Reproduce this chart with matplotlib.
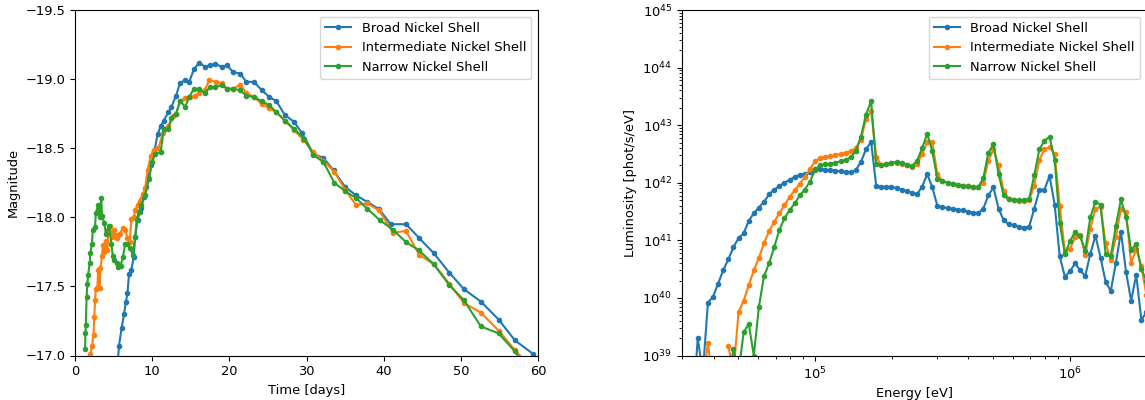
import numpy as np
import matplotlib
matplotlib.use("Agg")
import matplotlib.pyplot as plt
from matplotlib.ticker import NullFormatter

plt.rcParams['font.size'] = 9.4

labels = ["Broad Nickel Shell", "Intermediate Nickel Shell", "Narrow Nickel Shell"]

# ---- light curves (time [days], magnitude) ----
t_broad = [5.4, 5.7, 6.05, 6.35, 6.6, 6.8, 7.0, 7.3, 7.6, 7.8, 8.1, 8.4, 8.6, 8.9, 9.2, 9.5, 9.9,
           10.3, 10.7, 11.1, 11.5, 12.1, 12.5, 13.1, 13.6, 14.2, 14.8, 15.4, 16.1, 16.8, 17.5, 18.2,
           19.0, 19.7, 20.5, 21.4, 22.2, 23.2, 24.2, 25.2, 26.1, 27.2, 28.4, 29.4, 30.9, 32.2, 33.5,
           35.0, 36.4, 37.9, 39.4, 40.9, 42.9, 44.6, 46.5, 48.5, 50.4, 52.6, 54.9, 57.0, 59.4]
m_broad = [-16.85, -17.07, -17.20, -17.30, -17.39, -17.45, -17.59, -17.62, -17.71, -17.86, -17.98,
           -18.04, -18.07, -18.15, -18.22, -18.29, -18.38, -18.48, -18.60, -18.66, -18.70, -18.76,
           -18.80, -18.88, -18.97, -18.99, -18.98, -19.07, -19.12, -19.09, -19.10, -19.11, -19.09,
           -19.10, -19.05, -19.04, -18.98, -18.98, -18.92, -18.87, -18.84, -18.74, -18.69, -18.61,
           -18.46, -18.43, -18.34, -18.22, -18.16, -18.11, -18.06, -17.95, -17.95, -17.85, -17.74,
           -17.60, -17.48, -17.39, -17.26, -17.11, -17.01]

t_inter = [1.85, 2.0, 2.2, 2.4, 2.5, 2.6, 2.7, 2.9, 3.0, 3.2, 3.3, 3.5, 3.6, 3.8, 4.0, 4.2, 4.3, 4.5,
           4.8, 5.0, 5.2, 5.4, 5.6, 5.8, 6.2, 6.5, 6.8, 7.1, 7.3, 7.6, 7.8, 8.1, 8.4, 8.8, 9.1, 9.4,
           9.8, 10.2, 10.8, 11.4, 12.1, 12.7, 13.1, 13.6, 14.3, 14.9, 15.5, 16.1, 16.8, 17.4, 18.3,
           19.0, 19.7, 20.5, 21.4, 22.2, 23.2, 24.2, 25.2, 26.1, 27.2, 28.4, 29.6, 30.9, 32.2, 33.6,
           35.0, 36.4, 37.9, 39.4, 41.2, 42.9, 44.6, 46.5, 48.5, 50.4, 52.6, 54.9, 57.0, 58.5]
m_inter = [-16.85, -17.01, -17.07, -17.15, -17.28, -17.40, -17.48, -17.49, -17.62, -17.49, -17.63,
           -17.72, -17.80, -17.75, -17.83, -17.76, -17.91, -17.94, -17.86, -17.91, -17.87, -17.85,
           -17.87, -17.88, -17.92, -17.91, -17.85, -17.82, -17.99, -18.00, -18.05, -18.09, -18.12,
           -18.17, -18.21, -18.34, -18.44, -18.49, -18.50, -18.61, -18.66, -18.73, -18.75, -18.84,
           -18.86, -18.87, -18.88, -18.90, -18.92, -18.99, -18.98, -18.97, -18.93, -18.93, -18.96,
           -18.90, -18.87, -18.82, -18.79, -18.76, -18.70, -18.63, -18.56, -18.47, -18.41, -18.33,
           -18.20, -18.09, -18.10, -18.05, -17.89, -17.90, -17.73, -17.66, -17.52, -17.38, -17.31,
           -17.18, -17.04, -16.95]

t_narrow = [1.3, 1.35, 1.4, 1.5, 1.6, 1.7, 1.9, 2.0, 2.2, 2.3, 2.6, 2.7, 3.0, 3.2, 3.4, 3.5, 3.8, 4.0,
            4.4, 4.7, 4.9, 5.1, 5.4, 5.6, 5.9, 6.2, 6.5, 6.8, 7.1, 7.5, 7.8, 8.0, 8.3, 8.6, 9.1, 9.6,
            10.0, 10.4, 11.1, 11.5, 12.1, 12.5, 13.1, 13.6, 14.3, 14.8, 15.4, 16.1, 16.8, 17.5, 18.2,
            19.0, 19.7, 20.5, 21.4, 22.2, 23.2, 24.2, 25.2, 26.1, 27.2, 28.4, 29.7, 30.9, 32.2, 33.6,
            35.0, 36.4, 37.9, 39.5, 41.2, 42.9, 44.6, 46.5, 48.5, 50.4, 52.6, 54.9, 57.0, 58.0]
m_narrow = [-17.05, -17.16, -17.22, -17.42, -17.52, -17.58, -17.67, -17.74, -17.81, -17.91, -17.93,
            -18.03, -18.09, -18.00, -18.14, -18.01, -17.96, -17.88, -17.94, -17.81, -17.72, -17.69,
            -17.67, -17.64, -17.65, -17.71, -17.81, -17.81, -17.78, -17.73, -17.86, -17.98, -18.04,
            -18.09, -18.16, -18.28, -18.40, -18.46, -18.47, -18.64, -18.64, -18.72, -18.75, -18.84,
            -18.80, -18.87, -18.93, -18.93, -18.90, -18.94, -18.94, -18.96, -18.93, -18.93, -18.92,
            -18.88, -18.87, -18.84, -18.81, -18.76, -18.70, -18.64, -18.57, -18.45, -18.40, -18.25,
            -18.19, -18.14, -18.06, -17.98, -17.91, -17.82, -17.76, -17.66, -17.51, -17.40, -17.21,
            -17.16, -17.03, -16.95]

# ---- spectra: log10(energy [eV]) and log10(luminosity [phot/s/eV]) ----
log_energy = [4.48, 4.50, 4.52, 4.54, 4.56, 4.58, 4.60, 4.62, 4.64, 4.66, 4.68, 4.70, 4.72, 4.74,
              4.76, 4.78, 4.80, 4.82, 4.84, 4.86, 4.88, 4.90, 4.92, 4.94, 4.96, 4.98, 5.00, 5.02,
              5.04, 5.06, 5.08, 5.10, 5.12, 5.14, 5.16, 5.18, 5.20, 5.22, 5.24, 5.26, 5.28, 5.30,
              5.32, 5.34, 5.36, 5.38, 5.40, 5.42, 5.44, 5.46, 5.48, 5.50, 5.52, 5.54, 5.56, 5.58,
              5.60, 5.62, 5.64, 5.66, 5.68, 5.70, 5.72, 5.74, 5.76, 5.78, 5.80, 5.82, 5.84, 5.86,
              5.88, 5.90, 5.92, 5.94, 5.96, 5.98, 6.00, 6.02, 6.04, 6.06, 6.08, 6.10, 6.12, 6.14,
              6.16, 6.18, 6.20, 6.22, 6.24, 6.26, 6.28, 6.30]
nan = float("nan")
logL_broad = [nan, nan, 38.0, 39.30, 38.7, 39.92, 40.02, 40.25, 40.48, 40.67, 40.88, 41.04, 41.12,
              41.34, 41.47, 41.57, 41.67, 41.80, 41.88, 41.94, 42.00, 42.05, 42.10, 42.14, 42.16,
              42.18, 42.24, 42.24, 42.23, 42.22, 42.21, 42.20, 42.19, 42.18, 42.22, 42.36, 42.58,
              42.71, 41.95, 41.93, 41.93, 41.93, 41.91, 41.88, 41.85, 41.83, 41.80, 41.93, 42.15,
              41.92, 41.60, 41.58, 41.56, 41.55, 41.53, 41.52, 41.50, 41.48, 41.47, 41.55, 41.78,
              41.92, 41.55, 41.35, 41.28, 41.26, 41.24, 41.22, 41.24, 41.55, 41.87, 41.88, 42.12,
              41.62, 40.72, 40.37, 40.46, 40.60, 40.48, 40.38, 40.77, 41.08, 40.70, 40.28, 40.12,
              40.60, 41.15, 40.45, 39.95, 40.40, 39.62, 39.75]
logL_inter = [nan, nan, nan, nan, 38.5, 39.22, 38.5, nan, nan, 39.17, 38.7, 39.75, 39.95, 40.22,
              40.48, 40.70, 40.95, 41.16, 41.32, 41.47, 41.61, 41.75, 41.87, 41.98, 42.10, 42.24,
              42.37, 42.43, 42.45, 42.46, 42.48, 42.50, 42.52, 42.55, 42.60, 42.75, 43.10, 43.25,
              42.45, 42.30, 42.32, 42.34, 42.35, 42.33, 42.30, 42.28, 42.32, 42.50, 42.70, 42.70,
              42.15, 42.03, 42.00, 41.98, 41.96, 41.95, 41.94, 41.93, 41.92, 42.00, 42.38, 42.58,
              42.30, 41.85, 41.72, 41.70, 41.69, 41.69, 41.70, 41.95, 42.40, 42.58, 42.62, 42.50,
              41.60, 40.80, 40.85, 41.05, 41.10, 40.75, 41.20, 41.55, 41.58, 40.95, 40.66, 41.05,
              41.55, 41.50, 40.60, 40.85, 40.55, 40.05]
logL_narrow = [nan, nan, nan, nan, nan, nan, nan, nan, nan, 38.5, 39.12, 38.7, 39.40, 39.55, 39.0,
               39.85, 40.38, 40.60, 40.88, 41.18, 41.38, 41.52, 41.64, 41.78, 41.88, 42.02, 42.22,
               42.31, 42.32, 42.33, 42.35, 42.37, 42.40, 42.44, 42.55, 42.80, 43.18, 43.42, 42.32,
               42.30, 42.33, 42.35, 42.36, 42.34, 42.31, 42.29, 42.38, 42.60, 42.85, 42.55, 42.07,
               42.03, 42.00, 41.98, 41.96, 41.95, 41.94, 41.93, 41.92, 42.08, 42.52, 42.67, 42.15,
               41.78, 41.71, 41.70, 41.70, 41.70, 41.72, 42.13, 42.58, 42.73, 42.80, 42.40, 41.30,
               40.76, 40.98, 41.15, 41.07, 40.82, 41.40, 41.67, 41.62, 40.76, 40.72, 41.25, 41.71,
               41.40, 40.83, 40.94, 40.50, 40.30]

colors = ["#1f77b4", "#ff7f0e", "#2ca02c"]

fig = plt.figure(figsize=(11.45, 4.0), dpi=100)
W, H = 1145.0, 400.0
ax1 = fig.add_axes([75 / W, 44.5 / H, 463 / W, 345.5 / H])
ax2 = fig.add_axes([681.7 / W, 44.5 / H, 465 / W, 345.5 / H])

for t, m, c, lab in zip([t_broad, t_inter, t_narrow], [m_broad, m_inter, m_narrow], colors, labels):
    ax1.plot(t, m, '.-', color=c, label=lab)
ax1.set_xlim(0, 60)
ax1.set_ylim(-17.0, -19.5)
ax1.set_xlabel("Time [days]")
ax1.set_ylabel("Magnitude")
ax1.legend(loc="upper right")

E = 10 ** np.array(log_energy)
for lg, c, lab in zip([logL_broad, logL_inter, logL_narrow], colors, labels):
    ax2.plot(E, 10 ** np.array(lg), '.-', color=c, label=lab)
ax2.set_xscale("log")
ax2.set_yscale("log")
ax2.set_xlim(3e4, 2e6)
ax2.set_ylim(1e39, 1e45)
ax2.xaxis.set_minor_formatter(NullFormatter())
ax2.yaxis.set_minor_formatter(NullFormatter())
ax2.set_xlabel("Energy [eV]")
ax2.set_ylabel("Luminosity [phot/s/eV]")
ax2.legend(loc="upper right")

fig.savefig("out.png", dpi=100)
